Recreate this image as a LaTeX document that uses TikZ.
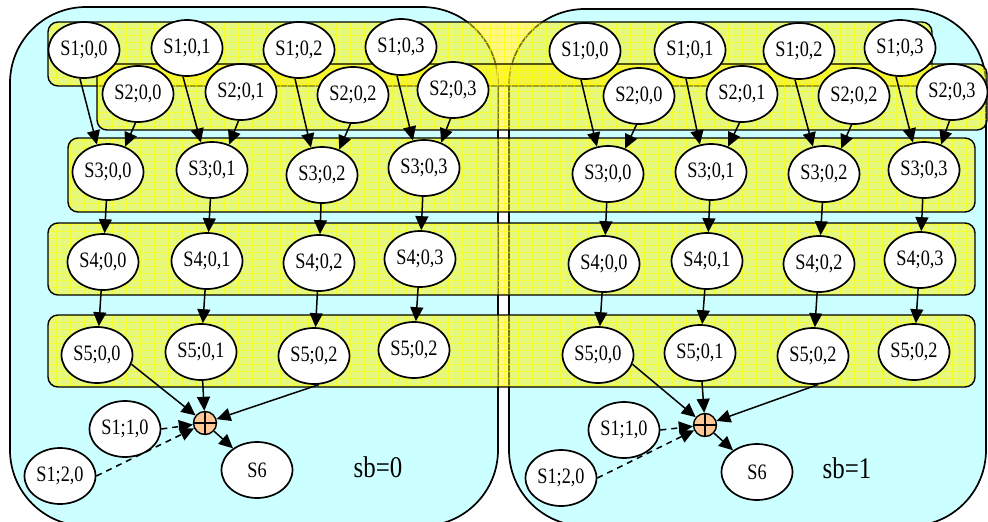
\documentclass[tikz,border=0pt]{standalone}
\usepackage{fontspec}
\setmainfont{Liberation Serif}
\newfontfamily\labfont[FakeStretch=0.83]{Liberation Serif}
\usetikzlibrary{shapes.geometric,arrows.meta}
\definecolor{boxcyan}{RGB}{204,255,255}
\definecolor{plusfill}{RGB}{255,200,150}
\definecolor{gridyel}{RGB}{255,255,0}
\newcommand\mybandbox[4]{%
  \fill[yellow, fill opacity=0.5, rounded corners=10pt] (#1,#2) rectangle (#3,#4);
  \begin{scope}
    \clip[rounded corners=10pt] (#1,#2) rectangle (#3,#4);
    \draw[gridyel, line width=0.7pt, opacity=0.6, step=7pt] (#1,#2) grid (#3,#4);
  \end{scope}
  \draw[line width=1.4pt, rounded corners=10pt] (#1,#2) rectangle (#3,#4);}
\begin{document}
\begin{tikzpicture}[x=1pt,y=-1pt,
  st/.style={ellipse, draw, line width=1.7pt, fill=white, minimum width=71pt, minimum height=56pt, inner sep=0pt, font=\labfont\fontsize{22}{22}\selectfont},
  arr/.style={line width=1.5pt, -{Triangle[length=14pt,width=13pt]}},
  darr/.style={arr, dash pattern=on 6pt off 5pt},
  bigbox/.style={draw, line width=1.7pt, fill=boxcyan, rounded corners=76pt},
  plusnode/.style={circle, draw, line width=1.4pt, fill=plusfill, minimum size=23pt, inner sep=0pt},
  sblabel/.style={font=\labfont\fontsize{30}{30}\selectfont}
]
\useasboundingbox (0,0) rectangle (988,522);
\fill[white] (0,0) rectangle (988,522);
\begin{scope}
  \clip (0,0) rectangle (988,522);
  \draw[bigbox] (10,7) rectangle (498,526);
  \draw[bigbox] (509,9) rectangle (986,526);
\end{scope}
% bands
\mybandbox{48}{22}{932}{86}
\mybandbox{97}{64}{987}{130}
\mybandbox{68}{138}{975}{212}
\mybandbox{48}{223}{975}{295}
\mybandbox{48}{315}{975}{387}
% left nodes
\node[st] (L1a) at (84,50) {S1;0,0};
\node[st] (L1b) at (187,48) {S1;0,1};
\node[st] (L1c) at (299,50) {S1;0,2};
\node[st] (L1d) at (401,47) {S1;0,3};
\node[st] (L2a) at (138,94) {S2;0,0};
\node[st] (L2b) at (241,92) {S2;0,1};
\node[st] (L2c) at (353,95) {S2;0,2};
\node[st] (L2d) at (453,90) {S2;0,3};
\node[st] (L3a) at (108,172) {S3;0,0};
\node[st] (L3b) at (212,170) {S3;0,1};
\node[st] (L3c) at (322,175) {S3;0,2};
\node[st] (L3d) at (424,168) {S3;0,3};
\node[st] (L4a) at (103,262) {S4;0,0};
\node[st] (L4b) at (207,261) {S4;0,1};
\node[st] (L4c) at (319,263) {S4;0,2};
\node[st] (L4d) at (420,259) {S4;0,3};
\node[st] (L5a) at (97,355) {S5;0,0};
\node[st] (L5b) at (201,352) {S5;0,1};
\node[st] (L5c) at (314,356) {S5;0,2};
\node[st] (L5d) at (414,350) {S5;0,2};
\node[st] (L110) at (125,429) {S1;1,0};
\node[st] (L120) at (60,476) {S1;2,0};
\node[st] (L6) at (257,470) {S6};
\node[plusnode] (Lp) at (205,423) {};
\node[sblabel] (sb0) at (378,467) {sb=0};
% right nodes
\node[st] (R1a) at (585,51) {S1;0,0};
\node[st] (R1b) at (690,50) {S1;0,1};
\node[st] (R1c) at (799,51) {S1;0,2};
\node[st] (R1d) at (900,48) {S1;0,3};
\node[st] (R2a) at (639,96) {S2;0,0};
\node[st] (R2b) at (742,94) {S2;0,1};
\node[st] (R2c) at (854,96) {S2;0,2};
\node[st] (R2d) at (952,92) {S2;0,3};
\node[st] (R3a) at (608,174) {S3;0,0};
\node[st] (R3b) at (711,172) {S3;0,1};
\node[st] (R3c) at (824,174) {S3;0,2};
\node[st] (R3d) at (924,170) {S3;0,3};
\node[st] (R4a) at (604,264) {S4;0,0};
\node[st] (R4b) at (707,261) {S4;0,1};
\node[st] (R4c) at (819,264) {S4;0,2};
\node[st] (R4d) at (920,260) {S4;0,3};
\node[st] (R5a) at (598,355) {S5;0,0};
\node[st] (R5b) at (700,353) {S5;0,1};
\node[st] (R5c) at (813,356) {S5;0,2};
\node[st] (R5d) at (914,352) {S5;0,2};
\node[st] (R110) at (624,430) {S1;1,0};
\node[st] (R120) at (561,478) {S1;2,0};
\node[st] (R6) at (757,472) {S6};
\node[plusnode] (Rp) at (705,425) {};
\node[sblabel] (sb1) at (847,468) {sb=1};
% plus signs and connectors
\foreach \s in {L,R}{
  \draw[line width=1.4pt] (\s p.north) -- (\s p.south) (\s p.west) -- (\s p.east);
  \foreach \k in {a,b,c,d}{
    \draw[arr] (\s1\k.-98) -- (\s3\k.112);
    \draw[arr] (\s2\k.-95) -- (\s3\k.56);
    \draw[arr] (\s3\k) -- (\s4\k);
    \draw[arr] (\s4\k) -- (\s5\k);
  }
  \draw[arr] (\s5a.-15) -- (\s p);
  \draw[arr] (\s5b) -- (\s p);
  \draw[arr] (\s5c.-80) -- (\s p);
  \draw[darr] (\s110.east) -- (\s p);
  \draw[darr] (\s120.east) -- (\s p);
  \draw[arr] (\s p) -- (\s6);
}
\end{tikzpicture}
\end{document}
